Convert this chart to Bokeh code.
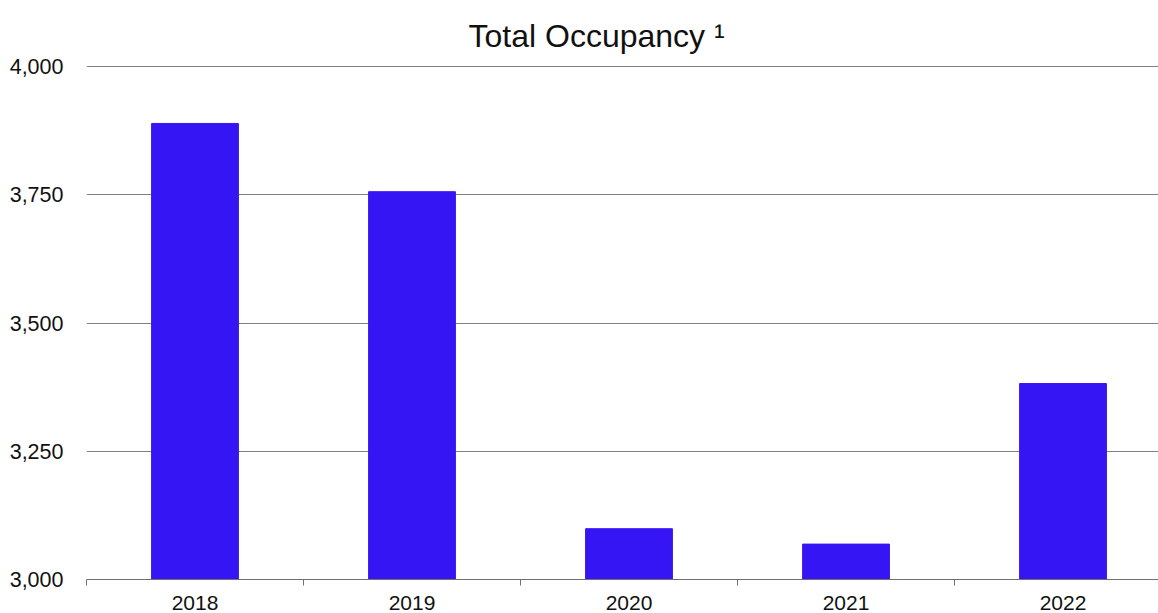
from bokeh.plotting import figure
from bokeh.models import Range1d, FixedTicker, NumeralTickFormatter, ColumnDataSource
from bokeh.embed import file_html
from bokeh.resources import INLINE

years = ["2018", "2019", "2020", "2021", "2022"]
occupancy = [3889, 3756, 3099, 3069, 3382]
y_ticks = [3000, 3250, 3500, 3750, 4000]

positions = list(range(len(years)))
src = ColumnDataSource(dict(x=positions, top=occupancy, year=years))

p = figure(width=1158, height=613, output_backend="svg", toolbar_location=None,
           x_range=Range1d(-0.5, 4.44), y_range=Range1d(3000, 4002),
           min_border_left=86, min_border_right=0, min_border_top=65, min_border_bottom=34,
           title="Total Occupancy \u00b9")
p.outline_line_color = None
p.background_fill_color = "white"
p.border_fill_color = "white"

p.title.text_font = "Liberation Sans"
p.title.text_font_size = "32px"
p.title.text_font_style = "normal"
p.title.text_color = "#111111"
p.title.align = "left"
p.title.offset = 382
p.title.standoff = 23

p.vbar(x="x", top="top", bottom=3000, width=0.4, source=src,
       fill_color="#3615F5", line_color="#3615F5")

# x axis
xa = p.xaxis[0]
xa.ticker = FixedTicker(ticks=positions, minor_ticks=[i - 0.5 for i in range(len(years) + 1)])
xa.major_label_overrides = {i: y for i, y in enumerate(years)}
xa.major_tick_out = 0
xa.major_tick_in = 0
xa.minor_tick_out = 6
xa.minor_tick_in = 0
xa.minor_tick_line_color = "#707070"
xa.axis_line_color = "#707070"
xa.major_label_text_font = "Liberation Sans"
xa.major_label_text_font_size = "21px"
xa.major_label_text_color = "#111111"
xa.major_label_standoff = 10

# y axis
ya = p.yaxis[0]
ya.ticker = FixedTicker(ticks=y_ticks)
ya.formatter = NumeralTickFormatter(format="0,0")
ya.axis_line_color = None
ya.major_tick_line_color = None
ya.minor_tick_line_color = None
ya.major_label_text_font = "Liberation Sans"
ya.major_label_text_font_size = "21.5px"
ya.major_label_text_color = "#111111"
ya.major_label_standoff = 17

p.xgrid.grid_line_color = None
p.ygrid.ticker = FixedTicker(ticks=y_ticks[1:])
p.ygrid.grid_line_color = "#808080"
p.ygrid.grid_line_width = 1

open("out.html", "w").write(file_html(p, INLINE))
